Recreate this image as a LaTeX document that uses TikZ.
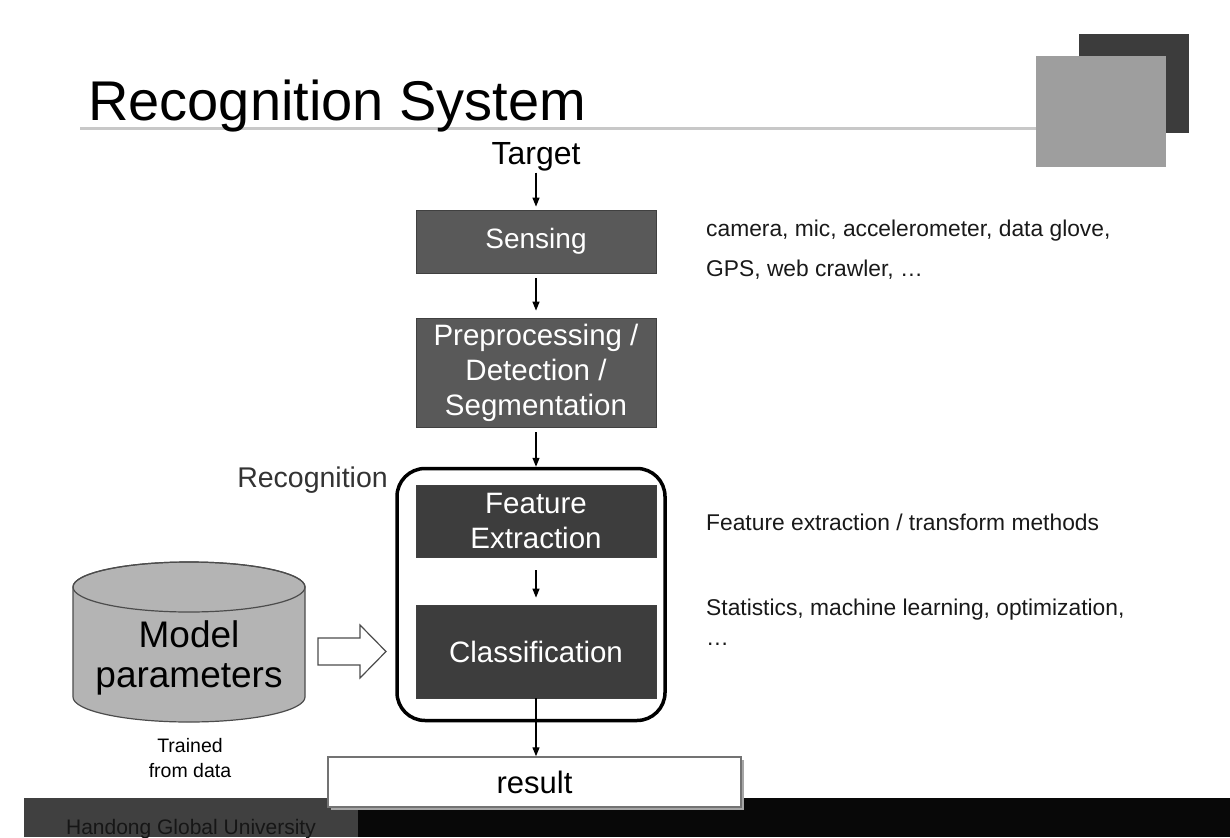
\documentclass[tikz,border=0pt]{standalone}
\usepackage{fontspec}
\setmainfont{Liberation Sans}
\usetikzlibrary{arrows.meta}
\definecolor{boxA}{HTML}{595959}
\definecolor{boxB}{HTML}{3D3D3D}
\definecolor{sqdark}{HTML}{3C3C3C}
\definecolor{sqlight}{HTML}{9E9E9E}
\definecolor{rule}{HTML}{C8C8C8}
\definecolor{cylfill}{HTML}{B4B4B4}
\definecolor{foot}{HTML}{404040}
\definecolor{foottext}{HTML}{161616}
\tikzset{
  stagebox/.style={draw=black!75, line width=0.8pt, minimum width=240pt, text=white, align=center, inner sep=0pt,
    font=\fontsize{29.5}{35}\selectfont},
  flow/.style={draw=black, line width=1.3pt, -{Triangle[length=9pt,width=7pt]}},
  sidetext/.style={anchor=base west, inner sep=0pt, font=\fontsize{22.8}{27}\selectfont, text=black!90},
}
\begin{document}
\begin{tikzpicture}[x=1pt,y=-1pt]
\useasboundingbox (0,0) rectangle (1230,837);
% header
\draw[rule, line width=3pt] (80,129) -- (1040,129);
\fill[sqdark] (1079,34) rectangle (1189,133);
\fill[sqlight] (1036,56) rectangle (1166,167);
\node[anchor=base west, inner sep=0pt, font=\fontsize{56}{64}\selectfont] (title) at (88,121) {Recognition System};

% main flow
\node[inner sep=1pt, font=\fontsize{32}{38}\selectfont] (target) at (536,157) {Target};
\node[stagebox, fill=boxA, minimum height=63pt, font=\fontsize{28}{34}\selectfont] (sensing) at (536,241.5) {Sensing};
\node[stagebox, fill=boxA, minimum height=109pt] (prep) at (536,372.5) {Preprocessing /\\Detection /\\Segmentation};
\node[draw=black, line width=3.5pt, rounded corners=28pt, minimum width=268pt, minimum height=252pt] (rec) at (531,594.5) {};
\node[stagebox, fill=boxB, minimum height=72pt] (feat) at (536,521) {Feature\\Extraction};
\node[stagebox, fill=boxB, minimum height=93pt] (class) at (536,651.5) {Classification};
\node[anchor=base east, inner sep=0pt, text=black!80, font=\fontsize{28.5}{32}\selectfont] (reclabel) at (388,487) {Recognition};

% footer
\fill[black!97] (358,798) rectangle (1230,837);
\fill[foot] (24,798) rectangle (358,837);
\node[anchor=base, inner sep=0pt, text=foottext, font=\fontsize{21}{24}\selectfont] (univ) at (191,834) {Handong Global University};

% result
\fill[black!35] (331,760) rectangle (744,810);
\node[draw=black!55, fill=white, line width=1.5pt, minimum width=413pt, minimum height=50pt, inner sep=0pt,
  font=\fontsize{31}{36}\selectfont] (result) at (534.5,782) {result};

% arrows
\draw[flow, shorten >=3pt] (target.south) -- (target.south |- sensing.north);
\draw[flow, shorten <=5pt, shorten >=7pt] (sensing.south) -- (prep.north);
\draw[flow, shorten <=5pt] (prep.south) -- (prep.south |- rec.north);
\draw[flow, shorten <=13pt, shorten >=7pt] (feat.south) -- (class.north);
\draw[flow] (class.south) -- (class.south |- result.north);

% model parameters cylinder
\filldraw[fill=cylfill, draw=black!70, line width=1.2pt]
  (73,587) -- (73,697) arc[start angle=180, end angle=360, x radius=116pt, y radius=25pt]
  -- (305,587) arc[start angle=0, end angle=180, x radius=116pt, y radius=25pt] -- cycle;
\draw[draw=black!70, line width=1.2pt] (189,587) ellipse[x radius=116pt, y radius=25pt];
\node[align=center, inner sep=0pt, font=\fontsize{37}{40}\selectfont] (model) at (189,658) {Model\\parameters};
\node[align=center, inner sep=0pt, font=\fontsize{19.5}{25}\selectfont] (trained) at (190,758) {Trained\\from data};

% hollow arrow
\filldraw[fill=white, draw=black!70, line width=1.2pt]
  (318,638) -- (360,638) -- (360,625) -- (386,651.5) -- (360,678) -- (360,665) -- (318,665) -- cycle;

% side notes
\node[sidetext] (n1) at (706,236) {camera, mic, accelerometer, data glove,};
\node[sidetext] (n2) at (706,276) {GPS, web crawler, …};
\node[sidetext] (n3) at (706,530) {Feature extraction / transform methods};
\node[sidetext] (n4) at (706,615) {Statistics, machine learning, optimization,};
\node[sidetext] (n5) at (706,645) {…};
\end{tikzpicture}
\end{document}
